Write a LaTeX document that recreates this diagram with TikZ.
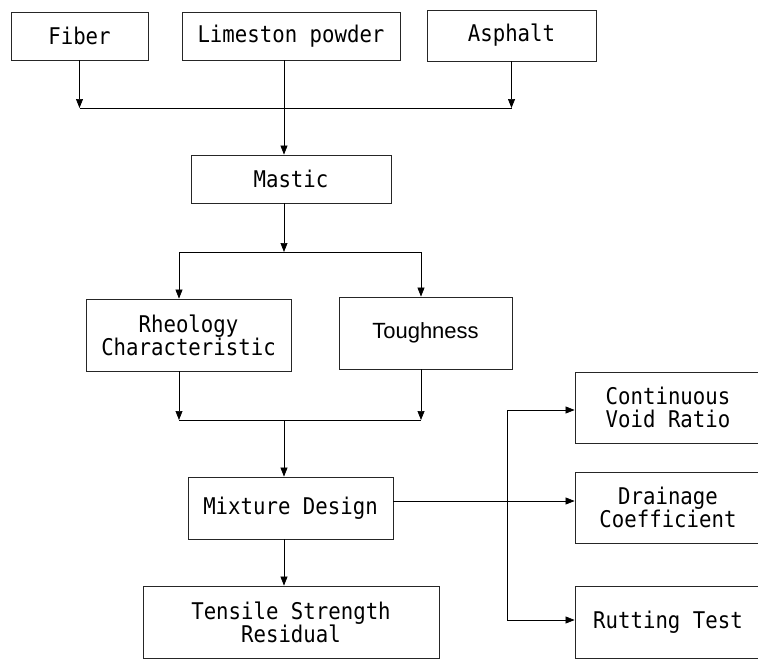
\documentclass[tikz,border=0pt]{standalone}
\usepackage{fontspec}
\usepackage{tikz}
\usetikzlibrary{positioning,calc,arrows.meta}
\newfontfamily\stagefont[FakeStretch=0.9]{DejaVu Sans Mono}
\newfontfamily\plainfont{Liberation Sans}

\begin{document}
\begin{tikzpicture}[
    x=1pt, y=-1pt,
    stage/.style={rectangle, draw=black!85, line width=0.8pt, inner sep=0pt, align=center,
        font=\stagefont\fontsize{23}{23}\selectfont},
    link/.style={-{Triangle[length=9pt,width=7pt]}, line width=0.7pt},
    wire/.style={line width=0.7pt}
]
    \useasboundingbox (0,0) rectangle (758,659);

    % materials
    \node[stage, minimum width=137pt, minimum height=48pt] (fiber) at (79.5,36) {Fiber};
    \node[stage, minimum width=218pt, minimum height=48pt] (lime) at (291,36) {Limeston powder};
    \node[stage, minimum width=169pt, minimum height=51pt] (asph) at (511.5,35.5) {Asphalt};

    \node[stage, minimum width=200pt, minimum height=48pt] (mastic) at (291,179) {Mastic};

    % mastic tests
    \node[stage, minimum width=205pt, minimum height=72pt] (rheo) at (188.5,335) {Rheology\\Characteristic};
    \node[stage, minimum width=173pt, minimum height=72pt, font=\plainfont\fontsize{22}{24}\selectfont] (tough) at (425.5,333) {Toughness};

    \node[stage, minimum width=205pt, minimum height=62pt] (mix) at (290.5,508) {Mixture Design};
    \node[stage, minimum width=296pt, minimum height=72pt] (tensile) at (291,622) {Tensile Strength\\Residual};

    % mixture tests
    \node[stage, minimum width=186pt, minimum height=71pt] (cont) at (668,407.5) {Continuous\\Void Ratio};
    \node[stage, minimum width=186pt, minimum height=71pt] (drain) at (668,507.5) {Drainage\\Coefficient};
    \node[stage, minimum width=186pt, minimum height=72pt] (rut) at (668,622) {Rutting Test};

    % junctions
    \coordinate (jin) at (284,108);
    \coordinate (jinL) at (fiber.south |- jin);
    \coordinate (jinR) at (asph.south |- jin);
    \coordinate (jsplit) at (284,252);
    \coordinate (jsL) at (179,252);
    \coordinate (jsR) at (421,252);
    \coordinate (jmerge) at (284,420);
    \coordinate (jmL) at (179,420);
    \coordinate (jmR) at (421,420);
    \coordinate (jtest) at (507,501);
    \coordinate (jtT) at (507,410);
    \coordinate (jtB) at (507,620);

    \draw[link] (fiber) -- (jinL);
    \draw[link] (asph) -- (jinR);
    \draw[wire] (jinL) -- (jinR);
    \draw[link] (lime.south -| jin) -- (mastic.north -| jin);

    \draw[link] (mastic.south -| jsplit) -- (jsplit);
    \draw[wire] (jsL) -- (jsR);
    \draw[link] (jsL) -- (rheo.north -| jsL);
    \draw[link] (jsR) -- (tough.north -| jsR);

    \draw[link] (rheo.south -| jmL) -- (jmL);
    \draw[link] (tough.south -| jmR) -- (jmR);
    \draw[wire] (jmL) -- (jmR);
    \draw[link] (jmerge) -- (mix.north -| jmerge);
    \draw[link] (mix.south -| jmerge) -- (tensile.north -| jmerge);

    \draw[link] (mix.east |- jtest) -- (drain.west |- jtest);
    \draw[wire] (jtT) -- (jtB);
    \draw[link] (jtT) -- (cont.west |- jtT);
    \draw[link] (jtB) -- (rut.west |- jtB);
\end{tikzpicture}
\end{document}
